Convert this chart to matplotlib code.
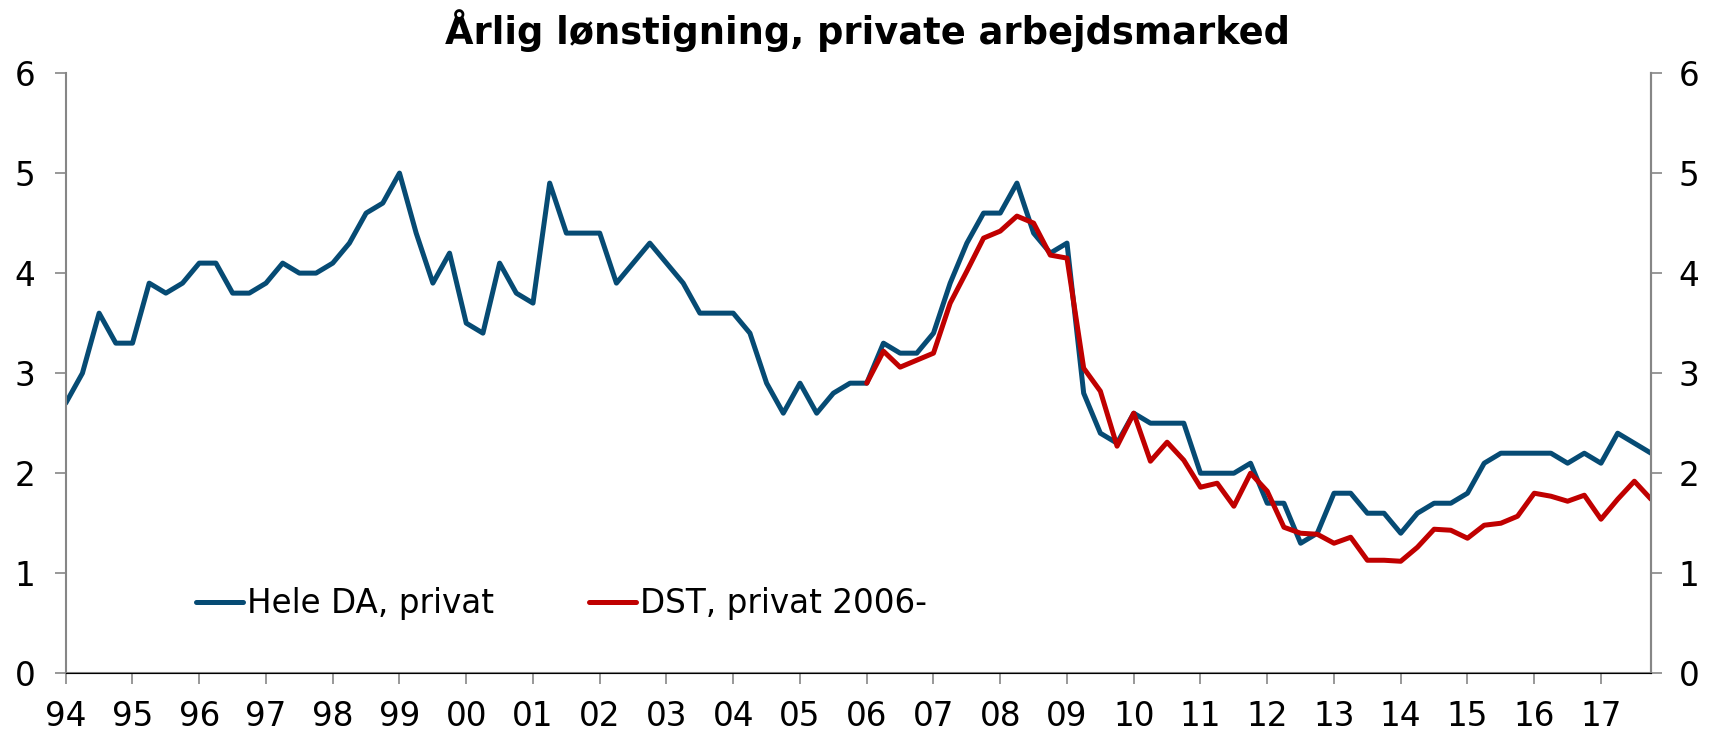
import numpy as np
import matplotlib
matplotlib.use('Agg')
import matplotlib.pyplot as plt

# kvartalsdata 1994K1 - 2017K4
start_year = 1994
hele_da = [2.7, 3.0, 3.6, 3.3,
           3.3, 3.9, 3.8, 3.9,
           4.1, 4.1, 3.8, 3.8,
           3.9, 4.1, 4.0, 4.0,
           4.1, 4.3, 4.6, 4.7,
           5.0, 4.4, 3.9, 4.2,
           3.5, 3.4, 4.1, 3.8,
           3.7, 4.9, 4.4, 4.4,
           4.4, 3.9, 4.1, 4.3,
           4.1, 3.9, 3.6, 3.6,
           3.6, 3.4, 2.9, 2.6,
           2.9, 2.6, 2.8, 2.9,
           2.9, 3.3, 3.2, 3.2,
           3.4, 3.9, 4.3, 4.6,
           4.6, 4.9, 4.4, 4.2,
           4.3, 2.8, 2.4, 2.3,
           2.6, 2.5, 2.5, 2.5,
           2.0, 2.0, 2.0, 2.1,
           1.7, 1.7, 1.3, 1.4,
           1.8, 1.8, 1.6, 1.6,
           1.4, 1.6, 1.7, 1.7,
           1.8, 2.1, 2.2, 2.2,
           2.2, 2.2, 2.1, 2.2,
           2.1, 2.4, 2.3, 2.2]

# DST fra 2006K1
dst_start = 2006
dst = [2.90, 3.22, 3.06, 3.13,
       3.20, 3.70, 4.02, 4.35,
       4.42, 4.57, 4.50, 4.18,
       4.15, 3.05, 2.82, 2.27,
       2.60, 2.12, 2.31, 2.13,
       1.86, 1.90, 1.67, 2.00,
       1.82, 1.46, 1.40, 1.39,
       1.30, 1.36, 1.13, 1.13,
       1.12, 1.26, 1.44, 1.43,
       1.35, 1.48, 1.50, 1.57,
       1.80, 1.77, 1.72, 1.78,
       1.54, 1.74, 1.92, 1.74]

years = list(range(1994, 2018))
year_labels = ['%02d' % (y % 100) for y in years]

x1 = start_year + np.arange(len(hele_da)) / 4
x2 = dst_start + np.arange(len(dst)) / 4

blue = '#064B74'
red = '#C00000'
grey = '#868686'

plt.rcParams['font.family'] = ['DejaVu Sans']

fig = plt.figure(figsize=(17.12, 7.34), dpi=100)
ax = fig.add_axes([0.0384, 0.0827, 0.9260, 0.8178])

ax.plot(x1, hele_da, color=blue, lw=3.6, label='Hele DA, privat',
        solid_capstyle='round', solid_joinstyle='round')
ax.plot(x2, dst, color=red, lw=3.6, label='DST, privat 2006-',
        solid_capstyle='round', solid_joinstyle='round')

ax.set_xlim(x1[0], x1[-1])
ax.set_ylim(0, 6)
ax.set_xticks(years)
ax.set_xticklabels(year_labels)
ax.set_yticks(range(0, 7))

for s in ['left', 'right', 'bottom']:
    ax.spines[s].set_color(grey)
    ax.spines[s].set_linewidth(1.5)
ax.spines['top'].set_visible(False)

ax.tick_params(axis='x', direction='out', length=8, width=1.2, color=grey,
               labelsize=23.5, pad=11)
ax.tick_params(axis='y', direction='out', length=8, width=1.2, color=grey,
               labelsize=23.5, pad=14)

ax2 = ax.twinx()
ax2.set_ylim(0, 6)
ax2.set_yticks(range(0, 7))
ax2.spines['top'].set_visible(False)
ax2.spines['right'].set_color(grey)
ax2.spines['right'].set_linewidth(1.5)
ax2.spines['left'].set_visible(False)
ax2.tick_params(axis='y', direction='out', length=8, width=1.2, color=grey,
                labelsize=23.5, pad=12)

leg = ax.legend(loc='center left', bbox_to_anchor=(0.082, 0.1155), ncol=2,
                frameon=False, fontsize=23.5, handlelength=1.45, handletextpad=0.12,
                columnspacing=2.9, borderpad=0, borderaxespad=0)

fig.suptitle('Årlig lønstigning, private arbejdsmarked', x=0.507, y=0.958,
             fontsize=26.5, fontweight='bold', va='center')

fig.savefig('out.png', dpi=100)
